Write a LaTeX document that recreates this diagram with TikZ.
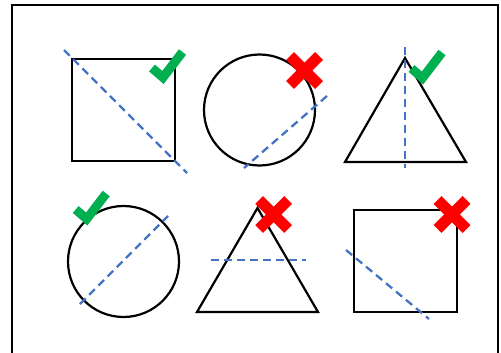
\documentclass[tikz,border=0pt]{standalone}
\usepackage{xcolor}
\usetikzlibrary{positioning}

\definecolor{okgreen}{HTML}{00B050}
\definecolor{axisblue}{HTML}{4472C4}

\begin{document}
\begin{tikzpicture}[
  x=1pt, y=-1pt,
  outline/.style={draw=black, line width=2.2pt},
  axis/.style={draw=axisblue, line width=2.3pt, dash pattern=on 8pt off 5pt},
  okmark/.style={draw=okgreen, line width=9pt, miter limit=10},
  badmark/.style={draw=red, line width=11pt},
  tickmark/.pic={\draw[okmark] (-11,-9.5) -- (0,0) -- (19.5,-25.5);},
  crossmark/.pic={\draw[badmark] (-14.5,-14.5) -- (14.5,14.5) (-14.5,14.5) -- (14.5,-14.5);}
]
\useasboundingbox (0,0) rectangle (501,353);

% Frame (bottom edge runs off the page)
\draw[line width=2.2pt] (12,362) -- (12,5) -- (498,5) -- (498,362);

% Top row: square, circle, triangle
\draw[outline] (72,59) rectangle (175,161);
\draw[axis] (64,50) -- (187,173);

\draw[outline] (259.5,110) circle[radius=55.5pt];
\draw[axis] (327,96) -- (244,168);

\draw[outline] (405,58) -- (345,162) -- (466,162) -- cycle;
\draw[axis] (405,47) -- (405,168);

% Bottom row: circle, triangle, square
\draw[outline] (123.5,261.5) circle[radius=55.5pt];
\draw[axis] (80,304) -- (168,216);

\draw[outline] (257.5,208) -- (197,312) -- (318,312) -- cycle;
\draw[axis] (211,260) -- (306,260);

\draw[outline] (354,210) rectangle (457,312);
\draw[axis] (346,250) -- (429,319);

% Marks
\pic at (163,77.5)    {tickmark};
\pic at (304.5,70.5)  {crossmark};
\pic at (422.5,78)    {tickmark};
\pic at (86.7,219)    {tickmark};
\pic at (273.7,214.5) {crossmark};
\pic at (452,214.5)   {crossmark};

\end{tikzpicture}
\end{document}
